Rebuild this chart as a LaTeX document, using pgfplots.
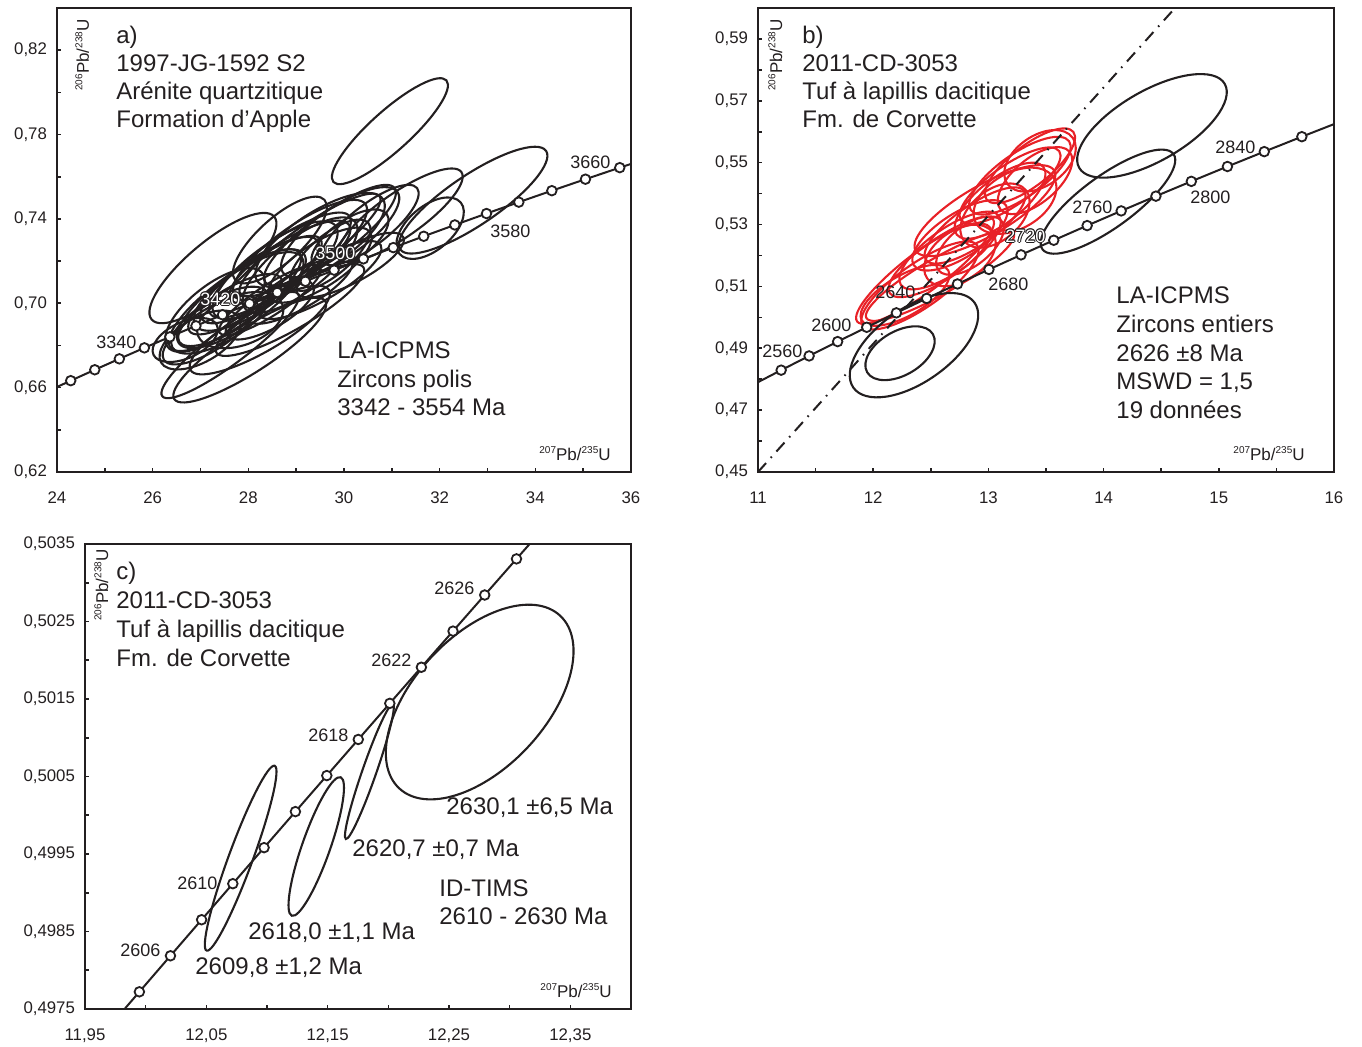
\documentclass[border=0pt]{standalone}
\usepackage{fontspec}
\setmainfont{Liberation Sans}
\usepackage{pgfplots}
\usepackage{pgfplotstable}
\pgfplotsset{compat=1.18}

\definecolor{tc}{RGB}{35,31,32}
\definecolor{rd}{RGB}{232,33,39}

\pgfplotsset{
  cc/.style={
    scale only axis,
    axis line style={line width=1.2pt, draw=tc},
    xtick pos=left, ytick pos=left,
    tick align=inside,
    major tick length=2.2pt, minor tick length=2.2pt,
    tick style={line width=0.8pt, draw=tc},
    ticklabel style={font=\fontsize{8.4}{10}\selectfont, text=tc},
    xticklabel style={yshift=-6.5pt},
    yticklabel style={xshift=-1.5pt},
  },
  conc/.style={tc, line width=1pt, mark=none},
  concm/.style={only marks, mark=*, mark size=2.4pt,
    mark options={fill=white, draw=tc, line width=0.9pt}},
}

% error ellipses of a table (centre in axis units, semi-axes in pt, angle in deg)
\newcommand{\drawells}[2]{%
  \pgfplotstablegetrowsof{#1}%
  \pgfmathtruncatemacro{\nrows}{\pgfplotsretval-1}%
  \foreach \r in {0,...,\nrows}{%
    \pgfplotstablegetelem{\r}{x}\of{#1}\let\Ex\pgfplotsretval
    \pgfplotstablegetelem{\r}{y}\of{#1}\let\Ey\pgfplotsretval
    \pgfplotstablegetelem{\r}{a}\of{#1}\let\Ea\pgfplotsretval
    \pgfplotstablegetelem{\r}{b}\of{#1}\let\Eb\pgfplotsretval
    \pgfplotstablegetelem{\r}{t}\of{#1}\let\Et\pgfplotsretval
    \edef\cmd{\noexpand\draw[#2, line width=1.05pt,
      rotate around={\Et:(axis cs:\Ex,\Ey)}]
      (axis cs:\Ex,\Ey) ellipse [x radius=\Ea pt, y radius=\Eb pt];}%
    \cmd
  }}

% concordia, 20 Ma steps
\pgfplotstableread{
t x y
3260 23.794 0.65816
3280 24.287 0.66331
3300 24.790 0.66848
3320 25.303 0.67366
3340 25.827 0.67887
3360 26.360 0.68408
3380 26.905 0.68931
3400 27.460 0.69456
3420 28.026 0.69983
3440 28.603 0.70511
3460 29.192 0.71041
3480 29.793 0.71572
3500 30.405 0.72106
3520 31.030 0.72640
3540 31.667 0.73177
3560 32.317 0.73715
3580 32.979 0.74255
3600 33.655 0.74796
3620 34.345 0.75339
3640 35.048 0.75884
3660 35.765 0.76431
3680 36.496 0.76979
}\concA

\pgfplotstableread{
t x y
2500 10.7297 0.47376
2520 10.9630 0.47833
2540 11.2010 0.48293
2560 11.4437 0.48753
2580 11.6912 0.49216
2600 11.9437 0.49679
2620 12.2012 0.50145
2640 12.4638 0.50611
2660 12.7316 0.51079
2680 13.0047 0.51548
2700 13.2833 0.52020
2720 13.5674 0.52492
2740 13.8572 0.52966
2760 14.1527 0.53441
2780 14.4541 0.53918
2800 14.7615 0.54396
2820 15.0750 0.54876
2840 15.3948 0.55357
2860 15.7209 0.55840
2880 16.0535 0.56324
}\concB

% concordia, 2 Ma steps
\pgfplotstableread{
t x y
2600 11.94373 0.496793
2602 11.96925 0.497257
2604 11.99482 0.497722
2606 12.02044 0.498187
2608 12.04611 0.498652
2610 12.07183 0.499117
2612 12.09760 0.499582
2614 12.12342 0.500047
2616 12.14930 0.500512
2618 12.17523 0.500978
2620 12.20121 0.501444
2622 12.22724 0.501910
2624 12.25332 0.502376
2626 12.27945 0.502842
2628 12.30563 0.503308
2630 12.33187 0.503774
2632 12.35816 0.504241
2634 12.38450 0.504708
}\concC

\pgfplotstableread{
x y a b t
30.96 0.7816 38 10 42
27.26 0.7167 40 13 40
32.70 0.7489 44 12.5 34
31.17 0.7418 37.5 11 35
31.80 0.7356 20 11 40
30.54 0.7371 30 10 38
29.92 0.7337 35 12.5 35
29.50 0.7300 37.5 14 33
29.08 0.7252 40 12.5 35
28.87 0.7195 35 11 32
28.56 0.7157 37.5 13 36
28.24 0.7110 35 11 34
28.03 0.7063 32.5 12 33
27.83 0.7015 37.5 13 35
27.62 0.6968 30 10 32
27.41 0.6920 27.5 11 30
27.20 0.6873 27.5 10 33
26.99 0.6826 22.5 11 30
28.24 0.6873 40 11 30
28.87 0.6968 42.5 10 30
28.03 0.6778 45 11 33
27.62 0.6802 42.5 9 37
29.50 0.7110 35 10 30
30.13 0.7181 30 9 28
29.08 0.7063 30 9 30
28.45 0.6968 25 9 30
26.68 0.6826 17.5 9 25
29.71 0.7228 25 10 40
28.66 0.7300 30 11 42
27.83 0.6920 22.5 12.5 20
29.707 0.7323 40 11 36
29.289 0.7276 42.5 10 35
28.662 0.7181 42.5 12 35
28.139 0.7086 40 11 35
27.721 0.7015 40 12 36
29.080 0.7181 35 13 38
30.125 0.7300 22.5 10 35
28.453 0.7015 30 7.5 33
27.303 0.6968 30 12.5 38
29.498 0.7181 30 11 33
}\tabEa

\pgfplotstableread{
x y a b t
13.361 0.5490 27.5 10 38
13.274 0.5458 30 11 35
13.188 0.5426 30 10 35
13.405 0.5442 22.5 11 40
12.970 0.5345 40 12.5 30
13.101 0.5377 27.5 11 38
12.884 0.5297 30 10 35
12.753 0.5265 27.5 11 33
13.057 0.5329 20 12.5 40
12.667 0.5216 30 11 35
12.580 0.5184 30 10 33
12.450 0.5152 42.5 10 37
12.580 0.5135 42.5 9 30
12.406 0.5103 35 11 35
12.753 0.5200 20 12.5 35
12.276 0.5071 25 10 30
13.231 0.5377 22.5 14 30
12.840 0.5232 20 10 38
13.448 0.5506 20 12.5 35
}\tabEbred

\pgfplotstableread{
x y a b t
14.420 0.5619 42 17.5 30
14.038 0.5374 40.5 13 36
12.354 0.4910 37 18.5 35
12.233 0.4884 19 11 30
}\tabEbblk

\pgfplotstableread{
x y a b t
12.2753 0.501461 59 33 47
12.1844 0.500565 35.75 3.5 70.8
12.1406 0.499597 36.7 7 70.6
12.0783 0.499446 49.25 6 69.8
}\tabEc

\tikzset{
  txt/.style={font=\fontsize{12}{14}\selectfont, inner sep=0pt, anchor=base west, text=tc},
  clab/.style={font=\fontsize{9}{10}\selectfont, inner sep=0pt, anchor=base west, text=tc},
  axl/.style={font=\fontsize{8.5}{10}\selectfont, inner sep=0pt, text=tc},
}
\newcommand{\olab}[3]{%
  \foreach \dx/\dy in {0.5/0,-0.5/0,0/0.5,0/-0.5,0.35/0.35,-0.35/0.35,0.35/-0.35,-0.35/-0.35}
    {\node[clab, text=tc, xshift=\dx pt, yshift=\dy pt] at (#1,#2) {#3};}
  \node[clab, text=white] at (#1,#2) {#3};}
\newcommand{\sups}[1]{\raisebox{0.75ex}{\fontsize{5}{6}\selectfont #1}}
\newcommand{\xlab}{\sups{207}Pb/\sups{235}U}
\newcommand{\ylab}{\sups{206}Pb/\sups{238}U}

\begin{document}
\begin{tikzpicture}
\path[use as bounding box] (0,0) rectangle (681pt,-523pt);

% a)
\begin{axis}[cc, at={(28.5pt,-236pt)}, anchor=south west,
  width=287pt, height=232pt,
  xmin=24, xmax=36, ymin=0.62, ymax=0.84,
  xtick={24,26,...,36}, xticklabels={24,26,28,30,32,34,36},
  minor xtick={25,27,...,35},
  ytick={0.62,0.66,0.70,0.74,0.78,0.82},
  yticklabels={{0,62},{0,66},{0,70},{0,74},{0,78},{0,82}},
  minor ytick={0.64,0.68,0.72,0.76,0.80}]
\drawells{\tabEa}{tc}
\addplot[conc] table[x=x, y=y] {\concA};
\addplot[concm, restrict x to domain=24:36] table[x=x, y=y] {\concA};
\end{axis}

% b)
\begin{axis}[cc, at={(379pt,-236pt)}, anchor=south west,
  width=288pt, height=232pt,
  xmin=11, xmax=16, ymin=0.45, ymax=0.60,
  xtick={11,...,16}, xticklabels={11,12,13,14,15,16},
  minor xtick={11.5,12.5,13.5,14.5,15.5},
  ytick={0.45,0.47,0.49,0.51,0.53,0.55,0.57,0.59},
  yticklabels={{0,45},{0,47},{0,49},{0,51},{0,53},{0,55},{0,57},{0,59}},
  minor ytick={0.46,0.48,0.50,0.52,0.54,0.56,0.58,0.60}]
\drawells{\tabEbred}{rd}
\drawells{\tabEbblk}{tc}
\addplot[tc, line width=1pt, dash pattern=on 6pt off 3.5pt on 0.8pt off 3.5pt]
  coordinates {(11,0.45) (14.62,0.60)};
\addplot[conc] table[x=x, y=y] {\concB};
\addplot[concm, restrict x to domain=11:16] table[x=x, y=y] {\concB};
\end{axis}

% c)
\begin{axis}[cc, at={(42.5pt,-504.5pt)}, anchor=south west,
  width=273pt, height=232.5pt,
  xmin=11.95, xmax=12.40, ymin=0.4975, ymax=0.5035,
  xtick={11.95,12.05,12.15,12.25,12.35},
  xticklabels={{11,95},{12,05},{12,15},{12,25},{12,35}},
  minor xtick={12.00,12.10,12.20,12.30,12.40},
  ytick={0.4975,0.4985,0.4995,0.5005,0.5015,0.5025,0.5035},
  yticklabels={{0,4975},{0,4985},{0,4995},{0,5005},{0,5015},{0,5025},{0,5035}},
  minor ytick={0.4980,0.4990,0.5000,0.5010,0.5020,0.5030}]
\drawells{\tabEc}{tc}
\addplot[conc] table[x=x, y=y] {\concC};
\addplot[concm, restrict x to domain=11.95:12.40, restrict y to domain=0.4975:0.5035]
  table[x=x, y=y] {\concC};
\end{axis}

% texts, placed in pixel units of the reference
\begin{scope}[x=0.5pt, y=-0.5pt]
% a)
\node[txt] at (116,43) {a)};
\node[txt] at (116,71) {1997-JG-1592 S2};
\node[txt] at (116,99.5) {Arénite quartzitique};
\node[txt] at (116,127.5) {Formation d’Apple};
\node[txt] at (337,358) {LA-ICPMS};
\node[txt] at (337,387) {Zircons polis};
\node[txt] at (337,415) {3342 - 3554 Ma};
\node[axl, rotate=90, anchor=base east] at (89,19) {\ylab};
\node[axl, anchor=base east] at (611,460) {\xlab};
\node[clab] at (96,348) {3340};
\node[clab] at (490,237) {3580};
\node[clab] at (570,168) {3660};
\olab{200}{305}{3420}
\olab{315}{259}{3500}
% b)
\node[txt] at (802,43) {b)};
\node[txt] at (802,71) {2011-CD-3053};
\node[txt] at (802,99.5) {Tuf à lapillis dacitique};
\node[txt] at (802,127.5) {Fm. de Corvette};
\node[txt] at (1116,303) {LA-ICPMS};
\node[txt] at (1116,332) {Zircons entiers};
\node[txt] at (1116,361) {2626 ±8 Ma};
\node[txt] at (1116,389) {MSWD = 1,5};
\node[txt] at (1116,418) {19 données};
\node[axl, rotate=90, anchor=base east] at (782,19) {\ylab};
\node[axl, anchor=base east] at (1305,460) {\xlab};
\node[clab] at (762,357) {2560};
\node[clab] at (811,331) {2600};
\node[clab] at (875,298) {2640};
\node[clab] at (988,290) {2680};
\olab{1005}{242}{2720}
\node[clab] at (1072,213) {2760};
\node[clab] at (1190,203) {2800};
\node[clab] at (1215,153) {2840};
% c)
\node[txt] at (116,579) {c)};
\node[txt] at (116,608) {2011-CD-3053};
\node[txt] at (116,637) {Tuf à lapillis dacitique};
\node[txt] at (116,666) {Fm. de Corvette};
\node[txt] at (446,814) {2630,1 ±6,5 Ma};
\node[txt] at (352,856) {2620,7 ±0,7 Ma};
\node[txt] at (439,896) {ID-TIMS};
\node[txt] at (439,924) {2610 - 2630 Ma};
\node[txt] at (248,939) {2618,0 ±1,1 Ma};
\node[txt] at (195,974) {2609,8 ±1,2 Ma};
\node[axl, rotate=90, anchor=base east] at (108,549) {\ylab};
\node[axl, anchor=base east] at (612,997) {\xlab};
\node[clab] at (120,956) {2606};
\node[clab] at (177,889) {2610};
\node[clab] at (308,741) {2618};
\node[clab] at (371,666) {2622};
\node[clab] at (434,594) {2626};
\end{scope}
\end{tikzpicture}
\end{document}
